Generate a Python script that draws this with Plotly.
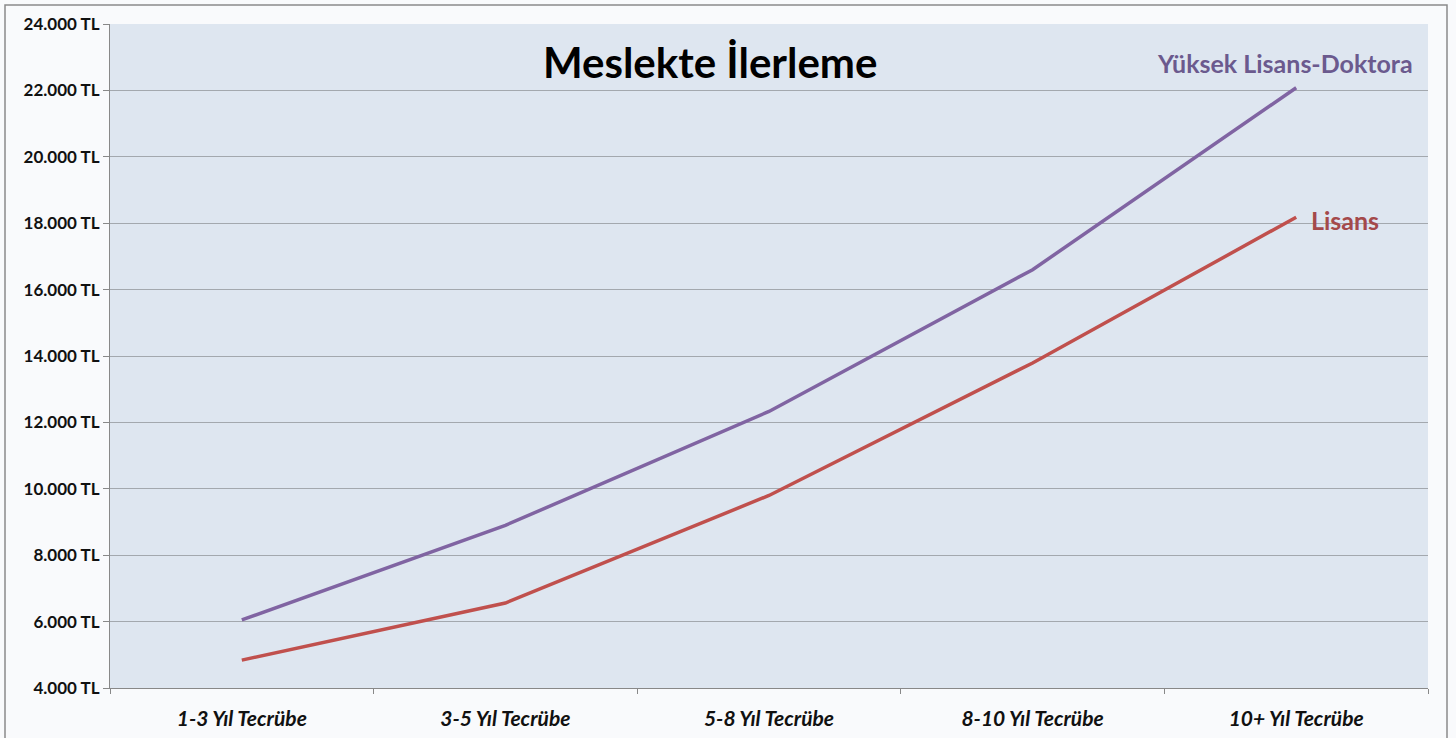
import plotly.graph_objects as go

categories = ["1-3 Yıl Tecrübe", "3-5 Yıl Tecrübe", "5-8 Yıl Tecrübe", "8-10 Yıl Tecrübe", "10+ Yıl Tecrübe"]
yuksek_lisans_doktora = [6050, 8900, 12330, 16600, 22080]
lisans = [4840, 6560, 9800, 13790, 18180]
tick_vals = [4000, 6000, 8000, 10000, 12000, 14000, 16000, 18000, 20000, 22000, 24000]
tick_text = ["4.000 TL", "6.000 TL", "8.000 TL", "10.000 TL", "12.000 TL", "14.000 TL",
             "16.000 TL", "18.000 TL", "20.000 TL", "22.000 TL", "24.000 TL"]

PURPLE = "#8064A2"
RED = "#C0504D"
FONT = "Lato"

fig = go.Figure()
fig.add_trace(go.Scatter(x=categories, y=yuksek_lisans_doktora, mode="lines",
                         line=dict(color=PURPLE, width=3.5), name="Yüksek Lisans-Doktora"))
fig.add_trace(go.Scatter(x=categories, y=lisans, mode="lines",
                         line=dict(color=RED, width=3.5), name="Lisans"))

fig.update_layout(
    width=1456, height=738,
    margin=dict(l=110, r=28, t=24, b=50),
    paper_bgcolor="#F9FAFC",
    plot_bgcolor="#DEE6F0",
    showlegend=False,
    font=dict(family=FONT, color="#000000"),
    xaxis=dict(type="category", range=[-0.5, 4.5], tickson="boundaries",
               ticks="outside", ticklen=5, tickcolor="#888888",
               showline=True, linecolor="#888888", linewidth=1,
               showgrid=False, zeroline=False, ticklabelstandoff=12, automargin=False,
               tickfont=dict(family=FONT, size=21, color="#111111", weight="bold", style="italic")),
    yaxis=dict(range=[4000, 24000], tickvals=tick_vals, ticktext=tick_text,
               ticks="outside", ticklen=6, tickcolor="#888888",
               showline=True, linecolor="#888888", linewidth=1, automargin=False,
               showgrid=True, gridcolor="#A3A8AE", gridwidth=1, zeroline=False,
               tickfont=dict(family=FONT, size=17, color="#111111", weight="bold")),
)

fig.add_annotation(text="Meslekte İlerleme", xref="paper", yref="paper",
                   x=(710 - 110) / 1318, y=(688 - 62) / 664, xanchor="center", yanchor="middle",
                   showarrow=False, font=dict(family=FONT, size=42, color="#000000", weight="bold"))
fig.add_annotation(text="Yüksek Lisans-Doktora", x=categories[-1], y=yuksek_lisans_doktora[-1],
                   xanchor="right", yanchor="middle", xshift=119, yshift=25, showarrow=False,
                   font=dict(family=FONT, size=25, color="#6B5A8E", weight="bold"))
fig.add_annotation(text="Lisans", x=categories[-1], y=lisans[-1],
                   xanchor="left", yanchor="middle", xshift=13, yshift=-3, showarrow=False,
                   font=dict(family=FONT, size=25, color="#A4494A", weight="bold"))

fig.add_shape(type="rect", xref="paper", yref="paper",
              x0=(5 - 110) / 1318, x1=(1447 - 110) / 1318,
              y0=(688 - 745) / 664, y1=(688 - 5) / 664,
              line=dict(color="#8A8A8A", width=1.5), fillcolor="rgba(0,0,0,0)", layer="below")

fig.write_html("out.html", config={"displayModeBar": False},
               post_script="document.body.style.margin='0';document.body.style.overflow='hidden';")
